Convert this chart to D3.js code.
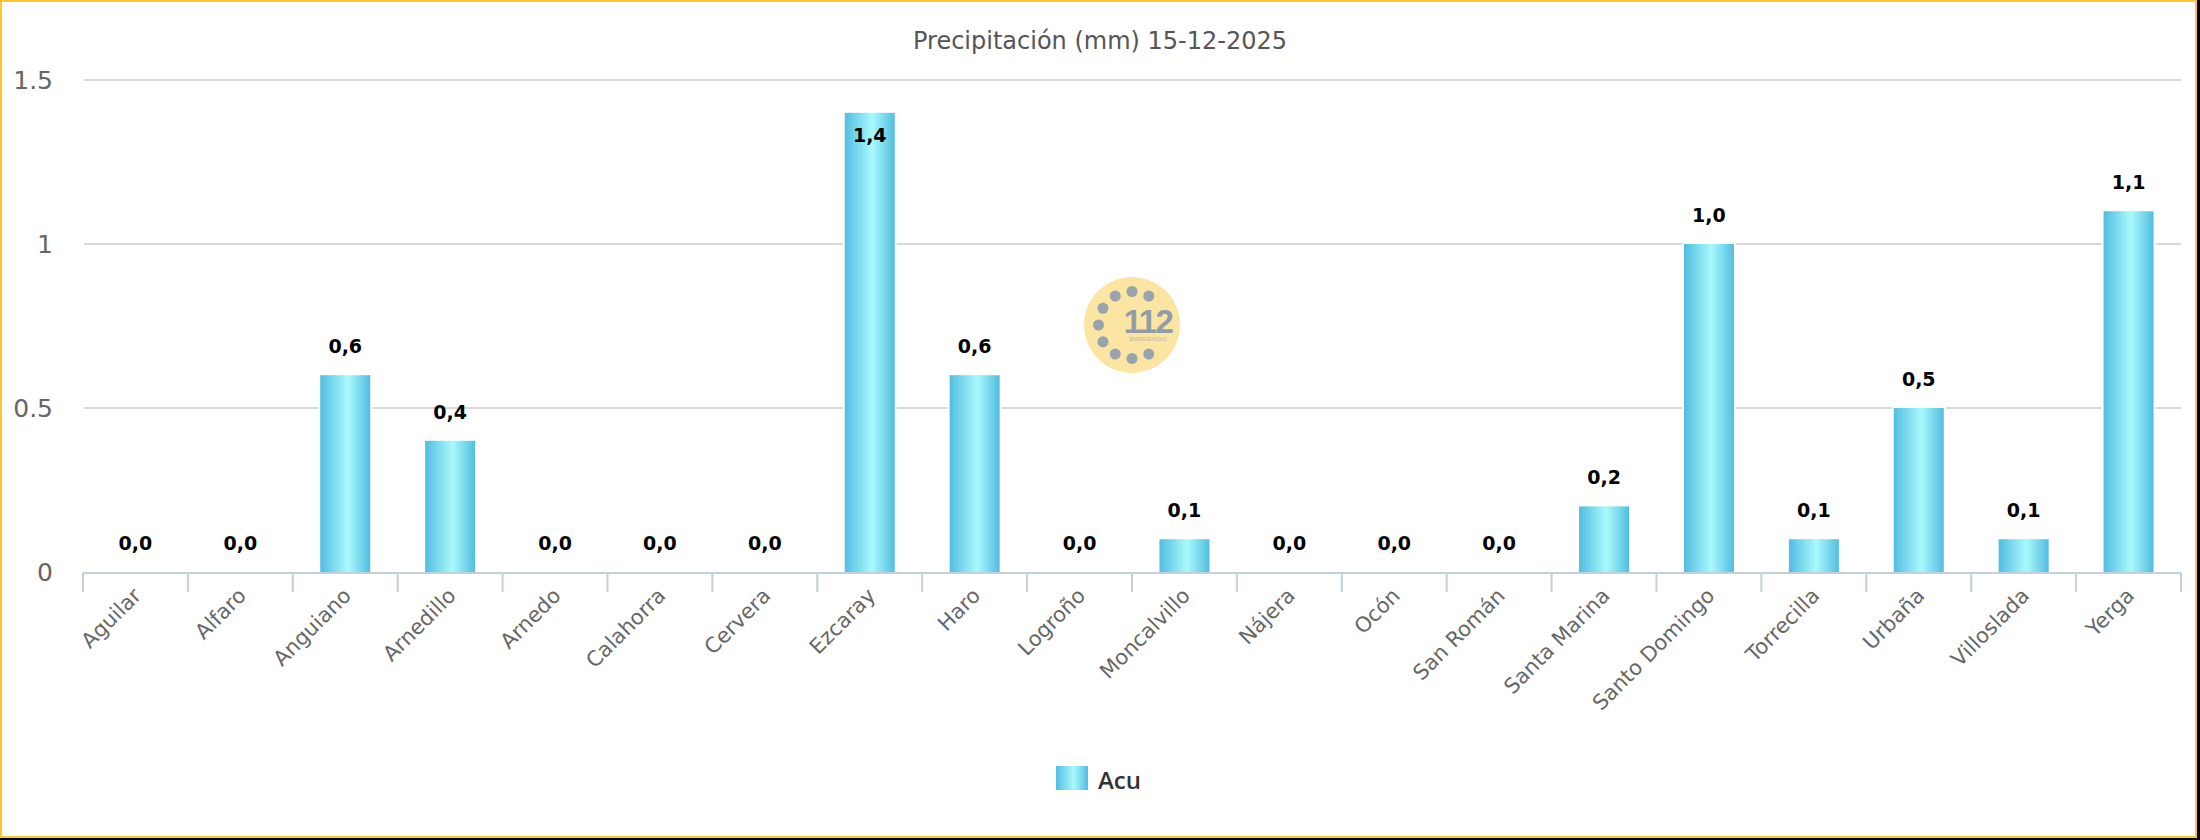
<!DOCTYPE html>
<html><head><meta charset="utf-8">
<script src="https://cdn.jsdelivr.net/npm/d3@7"></script>
<style>
html,body{margin:0;padding:0;background:#000;}
#wrap{width:2197px;height:838px;background:#fff;}
</style></head>
<body><div id="wrap"></div>
<script>
const categories = ["Aguilar","Alfaro","Anguiano","Arnedillo","Arnedo","Calahorra","Cervera","Ezcaray","Haro","Logroño","Moncalvillo","Nájera","Ocón","San Román","Santa Marina","Santo Domingo","Torrecilla","Urbaña","Villoslada","Yerga"];
const acuValues = [0,0,0.6,0.4,0,0,0,1.4,0.6,0,0.1,0,0,0,0.2,1.0,0.1,0.5,0.1,1.1];
const yTicks = [0,0.5,1,1.5];
const titleText = "Precipitación (mm) 15-12-2025";
const seriesName = "Acu";

const W = 2197, H = 838;
const svg = d3.select("#wrap").append("svg").attr("width", W).attr("height", H);
const font = "'DejaVu Sans', Verdana, sans-serif";

// border
svg.append("rect").attr("x",1).attr("y",1).attr("width",W-2).attr("height",H-2)
  .attr("fill","#fff").attr("stroke","#FFC72C").attr("stroke-width",2);

const plot = {left:83, right:2181, top:80, bottom:572};
const x = d3.scaleBand().domain(categories).range([plot.left, plot.right]).paddingInner(0).paddingOuter(0);
const y = d3.scaleLinear().domain([0,1.5]).range([plot.bottom, plot.top]);

const defs = svg.append("defs");
const grad = defs.append("linearGradient").attr("id","barGrad").attr("x1","0").attr("x2","1").attr("y1","0").attr("y2","0");
grad.append("stop").attr("offset","0%").attr("stop-color","#52BDE0");
grad.append("stop").attr("offset","55%").attr("stop-color","#A9F9FC");
grad.append("stop").attr("offset","100%").attr("stop-color","#52BDE0");

// title
svg.append("text").attr("x",1100).attr("y",49).attr("text-anchor","middle")
  .attr("font-family",font).attr("font-size",24).attr("fill","#555").text(titleText);

// gridlines
svg.append("g").selectAll("line").data(yTicks.filter(d=>d>0)).join("line")
  .attr("x1",plot.left+1).attr("x2",plot.right).attr("y1",d=>y(d)).attr("y2",d=>y(d))
  .attr("stroke","#d9d9d9").attr("stroke-width",2);

// y labels
const yAxis = d3.axisLeft(y).tickValues(yTicks).tickFormat(d3.format("~g")).tickSize(0).tickPadding(0);
const gy = svg.append("g").attr("transform",`translate(53,0)`).call(yAxis);
gy.select(".domain").remove();
gy.selectAll("text").attr("font-family",font).attr("font-size",25).attr("fill","#666").attr("dy","0.35em");

// logo watermark
const logo = svg.append("g").attr("transform","translate(1132,325)");
logo.append("circle").attr("r",48).attr("fill","#FCE4A2");
d3.range(60,301,30).forEach(a=>{
  const r = a*Math.PI/180;
  logo.append("circle").attr("cx",33.5*Math.cos(r)).attr("cy",-33.5*Math.sin(r)).attr("r",5.5).attr("fill","#97A3AD");
});
logo.append("text").attr("x",16).attr("y",8).attr("text-anchor","middle").attr("font-family","'Liberation Sans',Arial,sans-serif")
  .attr("font-weight","bold").attr("font-size",33).attr("letter-spacing",-1.5).attr("fill","#909DA8").text("112");
logo.append("text").attr("x",16).attr("y",16).attr("text-anchor","middle").attr("font-family","'Liberation Sans',Arial,sans-serif")
  .attr("font-size",5).attr("fill","#b0b5b8").text("EMERGENCIAS");

// bars
const barW = 50;
const bars = svg.append("g");
const data = categories.map((c,i)=>({c, v:acuValues[i]}));
bars.selectAll("rect.bg").data(data.filter(d=>d.v>0)).join("rect")
  .attr("x",d=>x(d.c)+x.bandwidth()/2-barW/2-2).attr("width",barW+4)
  .attr("y",d=>y(d.v)-2).attr("height",d=>y(0)-y(d.v)+2).attr("fill","#fff");
bars.selectAll("rect.bar").data(data.filter(d=>d.v>0)).join("rect")
  .attr("x",d=>x(d.c)+x.bandwidth()/2-barW/2).attr("width",barW)
  .attr("y",d=>y(d.v)).attr("height",d=>y(0)-y(d.v)).attr("fill","url(#barGrad)");

// x axis
const gx = svg.append("g").attr("transform",`translate(0,${plot.bottom+1})`);
gx.append("line").attr("x1",plot.left).attr("x2",plot.right).attr("stroke","#C2D0E0").attr("stroke-width",2);
const bounds = categories.map(c=>x(c)).concat([x(categories[categories.length-1])+x.bandwidth()]);
gx.selectAll("line.tick").data(bounds).join("line").attr("class","tick")
  .attr("x1",d=>d).attr("x2",d=>d).attr("y1",0).attr("y2",19).attr("stroke","#C2D0E0").attr("stroke-width",2);
gx.selectAll("text").data(categories).join("text")
  .attr("transform",d=>`translate(${x(d)+x.bandwidth()/2+7},${24}) rotate(-45)`)
  .attr("text-anchor","end").attr("font-family",font).attr("font-size",21).attr("fill","#666").text(d=>d);

// data labels
const loc = d3.formatLocale({decimal:",", thousands:".", grouping:[3], currency:["","€"]});
const fmt = loc.format(".1f");
svg.append("g").selectAll("text").data(data).join("text")
  .attr("x",d=>x(d.c)+x.bandwidth()/2).attr("text-anchor","middle")
  .attr("y",d=> (y(d.v)-36 < plot.top) ? y(d.v)+29 : y(d.v)-22)
  .attr("font-family",font).attr("font-weight","bold").attr("font-size",19).attr("fill","#000")
  .text(d=>fmt(d.v));

// legend
svg.append("rect").attr("x",1056).attr("y",766).attr("width",32).attr("height",24).attr("fill","url(#barGrad)");
svg.append("text").attr("x",1098).attr("y",789).attr("font-family","'Open Sans',sans-serif").attr("font-weight",600)
  .attr("font-size",24).attr("fill","#333").text(seriesName);
</script></body></html>
